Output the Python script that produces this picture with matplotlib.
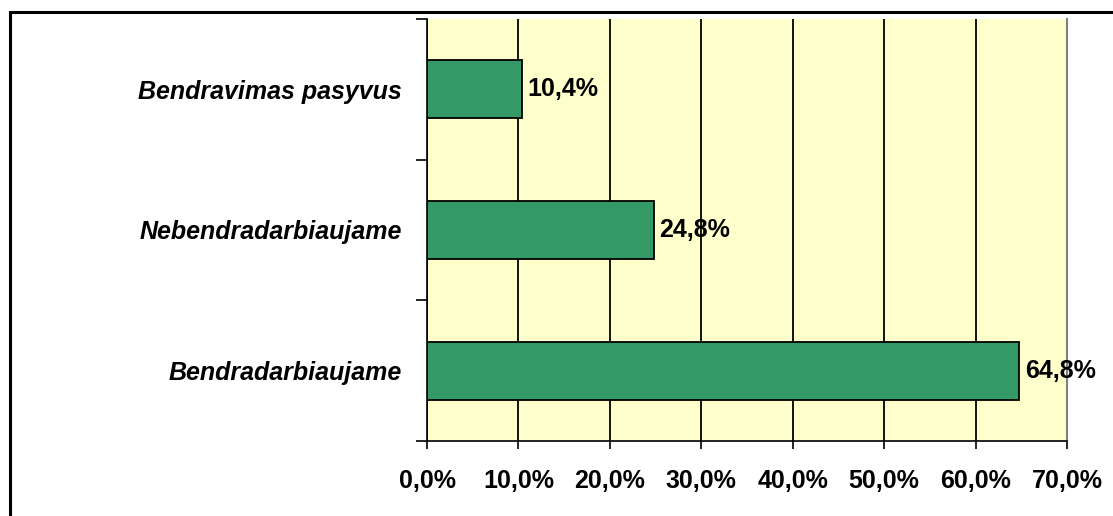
import matplotlib.pyplot as plt
from matplotlib.patches import Rectangle
from matplotlib.ticker import FixedLocator

# values (bottom to top)
categories = ["Bendradarbiaujame", "Nebendradarbiaujame", "Bendravimas pasyvus"]
shares = [64.8, 24.8, 10.4]
x_ticks = [0, 10, 20, 30, 40, 50, 60, 70]

plt.rcParams['font.family'] = ['Liberation Sans', 'DejaVu Sans']

fig = plt.figure(figsize=(11.13, 5.16), dpi=100, facecolor='white')
ax = fig.add_axes([427 / 1113, 1 - 441 / 516, 640 / 1113, 422 / 516])
ax.set_facecolor('#FFFFCC')

pos = list(range(len(categories)))
ax.barh(pos, shares, height=0.41, color='#339966', edgecolor='black',
        linewidth=1.3, zorder=3)

for y, v in zip(pos, shares):
    label = f"{v:.1f}%".replace('.', ',')
    ax.text(v + 0.6, y, label, va='center', ha='left', fontsize=18,
            fontweight='bold', zorder=4)

ax.set_xlim(0, 70)
ax.set_ylim(-0.5, len(categories) - 0.5)
ax.xaxis.set_major_locator(FixedLocator(x_ticks))
ax.set_xticklabels([f"{t:.1f}%".replace('.', ',') for t in x_ticks],
                   fontsize=18, fontweight='bold')
ax.tick_params(axis='x', direction='out', length=6, width=1.2, pad=14)

ax.set_yticks(pos)
ax.set_yticklabels(categories, fontsize=18, fontweight='bold', style='italic')
ax.set_yticks([-0.5, 0.5, 1.5, 2.5], minor=True)
ax.tick_params(axis='y', which='major', length=0, pad=18)
ax.tick_params(axis='y', which='minor', direction='out', length=8, width=1.2)

ax.grid(axis='x', color='black', linewidth=1.3, zorder=1)
ax.set_axisbelow(True)

ax.spines['top'].set_visible(False)
ax.spines['right'].set_color('#808080')
ax.spines['right'].set_linewidth(1.5)
ax.spines['left'].set_linewidth(1.2)
ax.spines['bottom'].set_linewidth(1.2)

# outer frame, only top and left edges fall inside the image
frame = Rectangle((10 / 1113, -0.1), 1.2, 1 - 12 / 516 + 0.1,
                  transform=fig.transFigure, fill=False, edgecolor='black',
                  linewidth=2.2, clip_on=False)
fig.patches.append(frame)

fig.savefig('out.png', dpi=100, facecolor='white')
